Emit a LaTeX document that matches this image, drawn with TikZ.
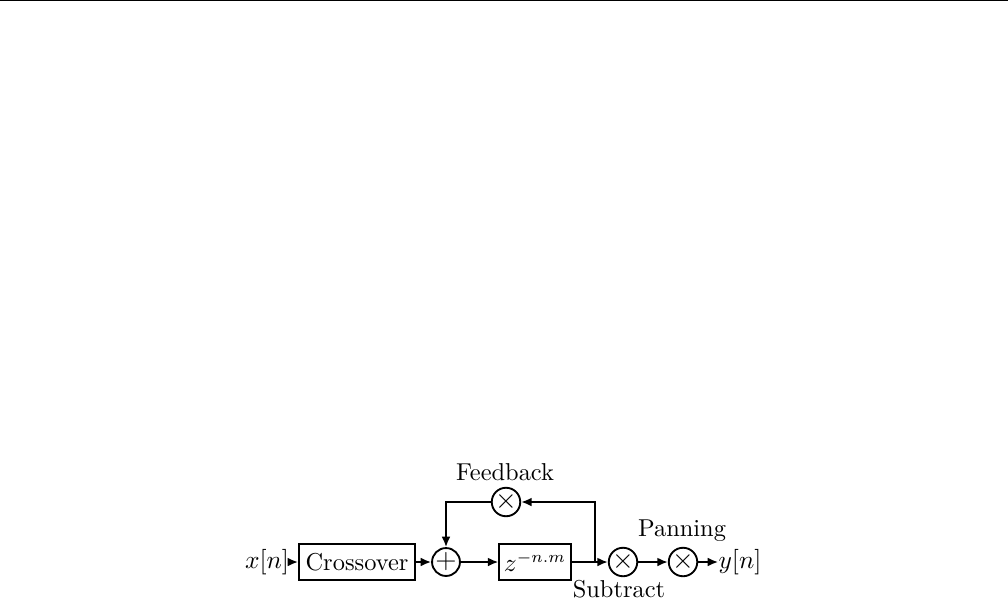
\documentclass[tikz,border=0pt]{standalone}
\usetikzlibrary{arrows.meta}
\begin{document}
\begin{tikzpicture}[x=0.43pt,y=-0.43pt,
  font=\fontsize{10.5}{12.5}\selectfont,
  wire/.style={line width=0.8pt},
  arr/.style={wire,-{Latex[length=4.5pt,width=3.8pt]}},
  blockbox/.style={draw,line width=0.8pt,minimum height=15.5pt,inner sep=2pt},
  opcirc/.style={draw,circle,line width=0.8pt,minimum size=10.8pt,inner sep=0pt,font=\fontsize{13}{13}\selectfont},
  lbl/.style={inner sep=0pt}]
\useasboundingbox (0,0) rectangle (1008,601);
\draw[line width=0.6pt] (0,0.6) -- (1008,0.6);
\node[lbl] (xn) at (267,562) {$x[n]$};
\node[blockbox,minimum width=49.9pt] (cross) at (357,562) {Crossover};
\node[opcirc] (plus) at (446,562) {$+$};
\node[blockbox,minimum width=30pt] (zbox) at (535,562) {$z^{-n.m}$};
\node[opcirc] (fb) at (506,502) {$\times$};
\node[lbl] (fblab) at (505,472) {Feedback};
\node[opcirc] (sub) at (623,562) {$\times$};
\node[lbl] (sublab) at (619,589) {Subtract};
\node[opcirc] (pan) at (683,562) {$\times$};
\node[lbl] (panlab) at (682,531) {Panning};
\node[lbl] (yn) at (740,562) {$y[n]$};
\coordinate (br) at (595,562);
\draw[arr] (xn) -- (cross);
\draw[arr] (cross) -- (plus);
\draw[arr] (plus) -- (zbox);
\draw[arr] (zbox) -- (sub);
\draw[arr] (br) |- (fb);
\draw[arr] (fb) -| (plus);
\draw[arr] (sub) -- (pan);
\draw[arr] (pan) -- (yn);
\end{tikzpicture}
\end{document}
